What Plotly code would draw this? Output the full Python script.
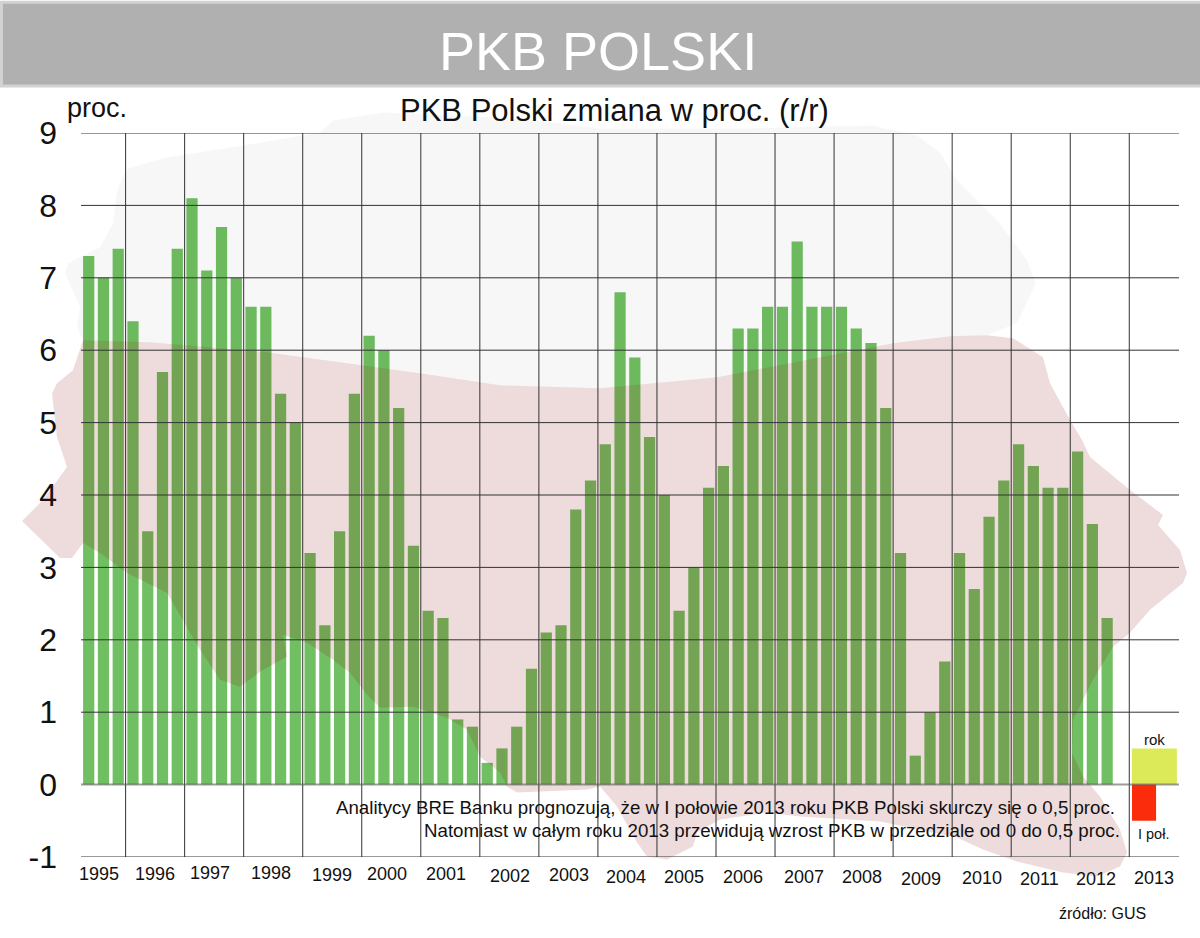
"""PKB Polski - quarterly GDP change y/y with the 2013 forecast."""

import plotly.graph_objects as go

WIDTH = 1200
HEIGHT = 938
LEFT, RIGHT, TOP, BOTTOM = 81, 1179, 132.5, 857.5

# quarterly values, 1995 Q1 .. 2012 Q2
gdp_change = [
    7.3, 7.0, 7.4, 6.4,
    3.5, 5.7, 7.4, 8.1,
    7.1, 7.7, 7.0, 6.6,
    6.6, 5.4, 5.0, 3.2,
    2.2, 3.5, 5.4, 6.2,
    6.0, 5.2, 3.3, 2.4,
    2.3, 0.9, 0.8, 0.3,
    0.5, 0.8, 1.6, 2.1,
    2.2, 3.8, 4.2, 4.7,
    6.8, 5.9, 4.8, 4.0,
    2.4, 3.0, 4.1, 4.4,
    6.3, 6.3, 6.6, 6.6,
    7.5, 6.6, 6.6, 6.6,
    6.3, 6.1, 5.2, 3.2,
    0.4, 1.0, 1.7, 3.2,
    2.7, 3.7, 4.2, 4.7,
    4.4, 4.1, 4.1, 4.6,
    3.6, 2.3,
]
forecast_labels = ["rok", "I poł."]
forecast_values = [0.5, -0.5]
y_ticks = [-1, 0, 1, 2, 3, 4, 5, 6, 7, 8, 9]
y_tick_text = ["-1", "0", "1", "2", "3", "4", "5", "6", "7", "8", "9"]
years = list(range(1995, 2014))

# layout of the year labels, which sit unevenly in the source picture
year_px = [99, 155, 210, 271, 332, 387, 446, 510, 569, 626, 684, 743, 804, 862, 921, 982, 1039, 1096, 1154]
year_py = [875, 875, 874, 874, 876, 875, 875, 877, 876, 878, 878, 878, 878, 878, 880, 879, 880, 880, 879]

# background map outline in pixels
map_white = [
    (83, 340), (77, 327), (80, 307), (65, 273), (68, 263), (100, 247), (113, 223), (117, 190),
    (127, 168), (167, 157), (243, 145), (320, 132), (333, 120), (383, 112), (520, 118), (600, 128),
    (740, 128), (872, 125), (917, 135), (940, 152), (957, 180), (1000, 223), (1027, 260), (1036, 283),
    (1017, 323), (987, 335), (950, 336), (893, 343), (717, 377), (600, 388), (500, 385), (420, 373),
    (267, 352), (150, 342),
]
map_red = [
    (83, 340), (150, 342), (267, 352), (420, 373), (500, 385), (600, 388), (717, 377), (893, 343),
    (950, 336), (987, 335), (1013, 338), (1043, 357), (1050, 383), (1070, 420), (1082, 440), (1090, 457),
    (1130, 490), (1163, 515), (1158, 525), (1180, 550), (1187, 573), (1183, 583), (1150, 610), (1130, 633),
    (1113, 647), (1093, 680), (1073, 720), (1072, 753), (1083, 777), (1100, 797), (1120, 830), (1127, 853),
    (1120, 867), (1097, 877), (1063, 873), (1017, 862), (983, 850), (957, 838), (880, 822), (800, 817),
    (767, 813), (720, 820), (697, 833), (693, 847), (667, 860), (647, 857), (637, 843), (617, 807),
    (600, 787), (587, 790), (517, 793), (507, 787), (500, 773), (480, 757), (467, 730), (447, 718),
    (413, 707), (380, 708), (367, 695), (350, 673), (333, 660), (307, 643), (283, 635), (287, 657),
    (263, 670), (240, 687), (220, 680), (200, 650), (167, 593), (127, 573), (100, 553), (83, 543),
    (72, 558), (60, 558), (22, 521), (43, 500), (67, 467), (57, 437), (52, 393), (57, 383), (73, 370),
]


def px_x(x):
    return (x - LEFT) / (RIGHT - LEFT)


def px_y(y):
    return (BOTTOM - y) / (BOTTOM - TOP)


def outline(points):
    return "M " + " L ".join(f"{px_x(x):.5f} {px_y(y):.5f}" for x, y in points) + " Z"


def label(fig, text, x, y, size, anchor="center", color="#111111"):
    fig.add_annotation(
        text=text, x=px_x(x), y=px_y(y), xref="paper", yref="paper",
        xanchor=anchor, yanchor="middle", showarrow=False,
        font=dict(size=size, color=color, family="Liberation Sans"),
    )


fig = go.Figure()

fig.add_trace(go.Bar(
    x=list(range(len(gdp_change))), y=gdp_change,
    width=0.76, marker=dict(color="#70BF62", line_width=0), name="PKB",
))
# 2013 forecast: wide "rok" bar, narrower "I poł." bar
fig.add_trace(go.Bar(
    x=[72.2, 71.5], y=forecast_values, width=[3.05, 1.63],
    marker=dict(color=["#DCEA5A", "#FB2C0C"], line_width=0), name="2013",
))

# header band
fig.add_shape(type="rect", xref="paper", yref="paper", x0=px_x(0), x1=px_x(WIDTH), y0=px_y(87), y1=px_y(0),
              fillcolor="#D2D2D2", line_width=0, layer="below")
fig.add_shape(type="rect", xref="paper", yref="paper", x0=px_x(3), x1=px_x(WIDTH), y0=px_y(84), y1=px_y(3),
              fillcolor="#B0B0B0", line_width=0, layer="below")

# map sits over the bars and tints them
fig.add_shape(type="path", xref="paper", yref="paper", path=outline(map_white),
              fillcolor="rgba(0,0,0,0.03)", line_width=0, layer="above")
fig.add_shape(type="path", xref="paper", yref="paper", path=outline(map_red),
              fillcolor="rgba(135,0,0,0.14)", line_width=0, layer="above")

# plotly grids stay under the traces, these lines run over the bars
for tick in y_ticks:
    if tick == 0:
        continue
    fig.add_shape(type="line", xref="paper", yref="y", x0=0, x1=1, y0=tick, y1=tick,
                  line=dict(color="#333333", width=1), layer="above")
for k in range(18):
    pos = 2.5 + 4 * k
    fig.add_shape(type="line", xref="x", yref="y", x0=pos, x1=pos, y0=-1, y1=9,
                  line=dict(color="#333333", width=1), layer="above")
fig.add_shape(type="line", xref="paper", yref="y", x0=0, x1=1, y0=0, y1=0,
              line=dict(color="rgba(90,90,90,0.6)", width=2), layer="above")

label(fig, "PKB POLSKI", 598, 50, 54, color="#FFFFFF")
label(fig, "PKB Polski zmiana w proc. (r/r)", 614, 110, 31)
label(fig, "proc.", 97, 107, 27)
label(fig, "Analitycy BRE Banku prognozują, że w I połowie 2013 roku PKB Polski skurczy się o 0,5 proc.",
      1117, 808, 18.7, anchor="right")
label(fig, "Natomiast w całym roku 2013 przewidują wzrost PKB w przedziale od 0 do 0,5 proc.",
      1122, 831, 18.7, anchor="right")
label(fig, forecast_labels[0], 1154, 740, 15)
label(fig, forecast_labels[1], 1153, 834, 14.5)
label(fig, "źródło: GUS", 1102, 914, 16)
for year, x, y in zip(years, year_px, year_py):
    label(fig, str(year), x, y, 18)

fig.update_layout(
    width=WIDTH,
    height=HEIGHT,
    autosize=False,
    margin=dict(l=LEFT, r=WIDTH - RIGHT, t=TOP, b=HEIGHT - BOTTOM, pad=0),
    paper_bgcolor="white",
    plot_bgcolor="rgba(0,0,0,0)",
    barmode="overlay",
    showlegend=False,
    xaxis=dict(
        range=[(LEFT - 88.7) / 14.76, (RIGHT - 88.7) / 14.76],
        showgrid=False, zeroline=False, showticklabels=False, ticks="",
    ),
    yaxis=dict(
        range=[-1, 9], tickvals=y_ticks, ticktext=y_tick_text, showgrid=False, zeroline=False,
        ticks="", ticklabelstandoff=23,
        tickfont=dict(size=32, color="#111111", family="Liberation Sans"),
    ),
)

fig.write_html(
    "out.html",
    config={"displayModeBar": False},
    post_script="document.body.style.margin='0';document.body.style.overflow='hidden';",
)
